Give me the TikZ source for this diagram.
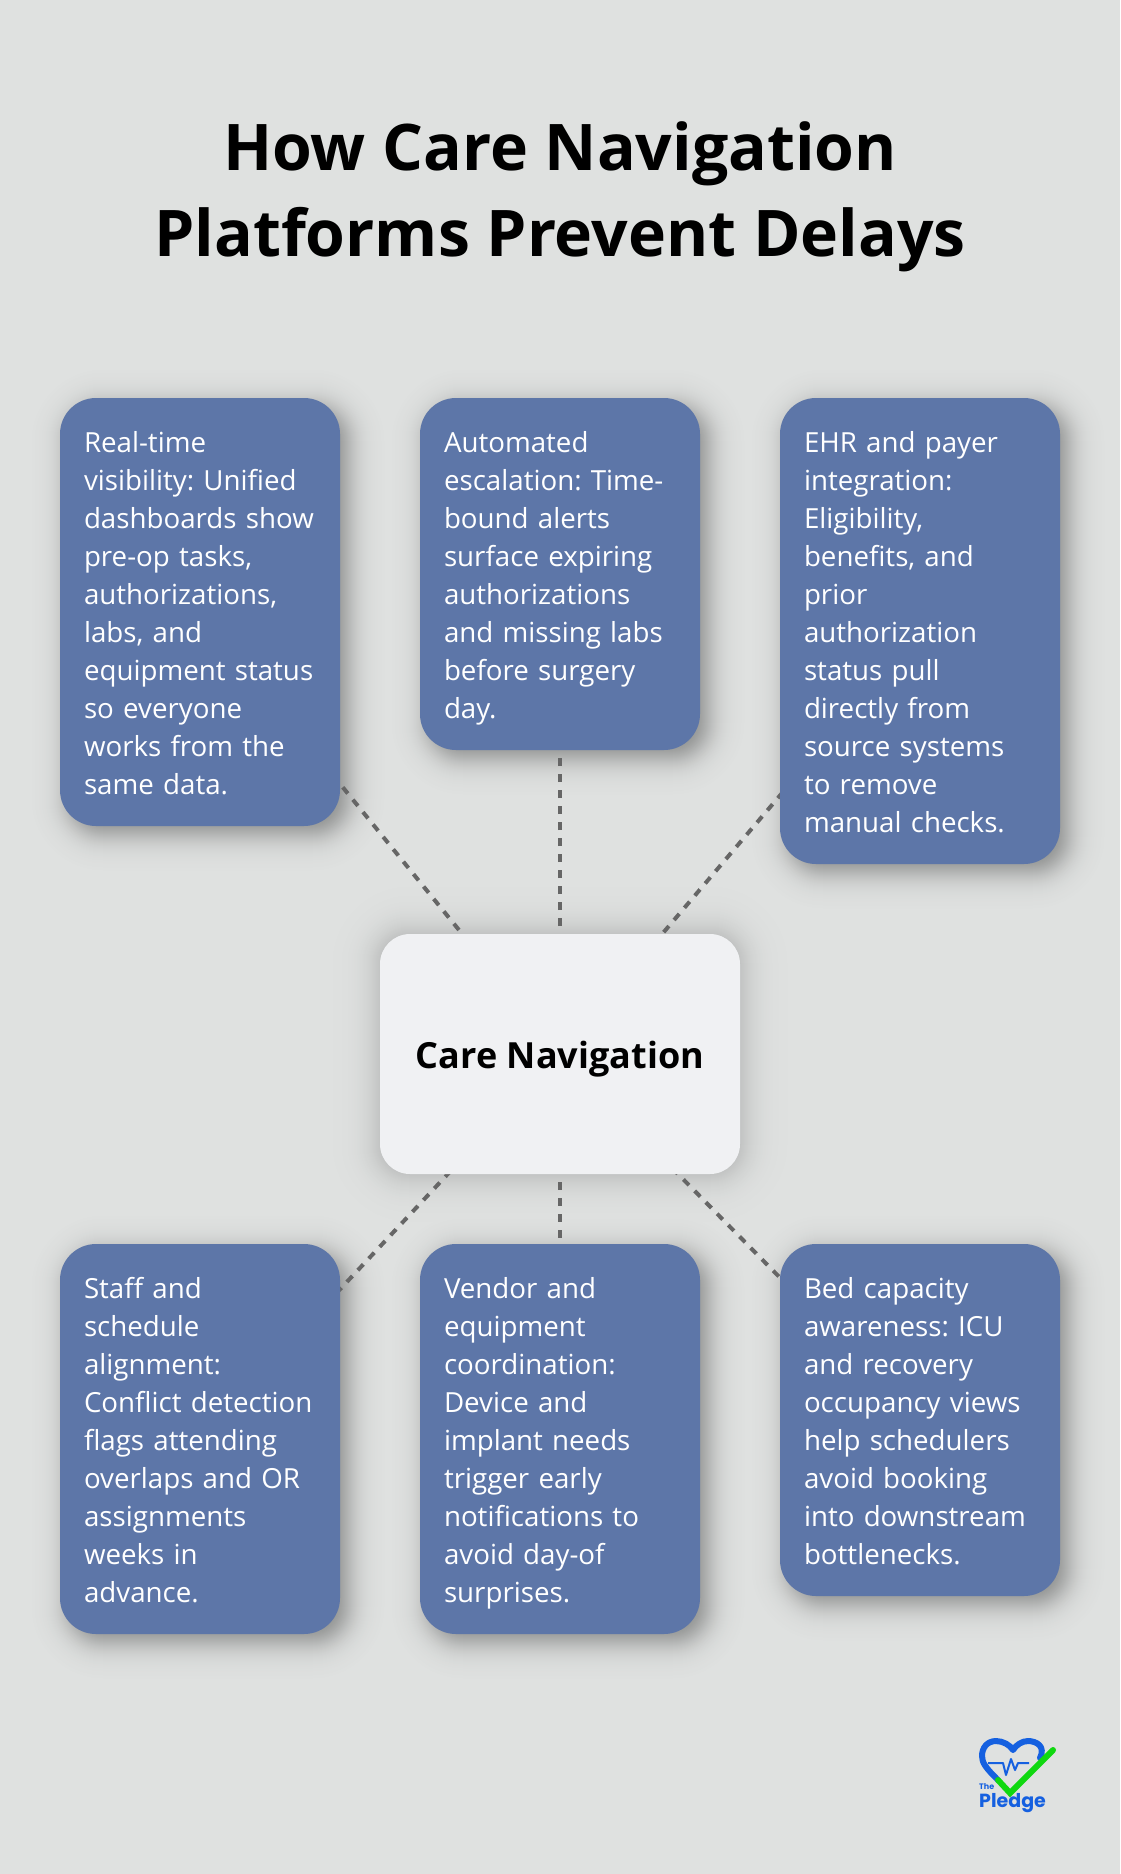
\documentclass[tikz,border=0pt]{standalone}
\usepackage{fontspec}
\setmainfont{Open Sans}
\newfontfamily\logofont{Poppins}
\usetikzlibrary{backgrounds,calc}
\definecolor{bgc}{HTML}{DFE1E0}
\definecolor{bluebox}{HTML}{5D76A8}
\definecolor{carebox}{HTML}{F0F1F3}
\definecolor{connc}{HTML}{666666}
\definecolor{logoblue}{HTML}{1560E0}
\definecolor{logogreen}{HTML}{10D810}
\tikzset{
  infobox/.style={anchor=north west,fill=bluebox,text=white,rounded corners=36pt,inner xsep=24pt,inner ysep=0pt,outer sep=0pt,text width=232pt,align=left,minimum width=280pt,font=\fontsize{27.7}{38}\selectfont\frenchspacing,
    execute at begin node={\rule{0pt}{30.6pt}},execute at end node={\rule[-7.4pt]{0pt}{7.4pt}}},
  carestyle/.style={anchor=north west,fill=carebox,text=black,rounded corners=30pt,inner sep=0pt,outer sep=0pt,minimum width=360pt,minimum height=240pt,align=center,font=\fontsize{36}{42}\selectfont\bfseries,
    execute at begin node={\rule[-7pt]{0pt}{45pt}}},
  titlestyle/.style={anchor=center,text=black,inner sep=0pt,align=center,font=\fontsize{64.3}{86}\selectfont\bfseries},
  conn/.style={draw=connc,line width=4pt,dash pattern=on 8pt off 8pt},
  heartline/.style={draw=logoblue,line width=6pt,line cap=round,line join=round},
  pulseline/.style={draw=logoblue,line width=2pt,line join=round},
  checkline/.style={draw=logogreen,line width=6pt,line cap=round,line join=miter}
}
\newcommand{\softshadow}[6]{% node, dx, dy, sigma, peak percent, radius
  \pgfmathtruncatemacro{\rng}{round(2.6*#4)}
  \pgfmathtruncatemacro{\nlay}{2*\rng}
  \foreach \i in {0,...,\nlay}{
    \pgfmathsetmacro{\ee}{\rng-\i}
    \pgfmathsetmacro{\rr}{max(#6+\ee,1)}
    \pgfmathsetmacro{\pc}{#5/(1+exp(1.702*\ee/#4))}
    \fill[black!\pc!bgc,rounded corners=\rr pt]
      ($(#1.north west)+(#2-\ee,#3-\ee)$) rectangle ($(#1.south east)+(#2+\ee,#3+\ee)$);
  }
}
\begin{document}
\begin{tikzpicture}[x=1pt,y=-1pt]
\useasboundingbox (0,0) rectangle (1120,1874);
\node[titlestyle] (title) at (560,197) {How Care Navigation\\Platforms Prevent Delays};
\node[infobox,minimum height=428pt] (b1) at (60,398) {Real-time\\visibility: Unified\\dashboards show\\pre-op tasks,\\authorizations,\\labs, and\\equipment status\\so everyone\\works from the\\same data.};
\node[infobox,minimum height=352pt] (b2) at (420,398) {Automated\\escalation: Time-\\bound alerts\\surface expiring\\authorizations\\and missing labs\\before surgery\\day.};
\node[infobox,minimum height=466pt] (b3) at (780,398) {EHR and payer\\integration:\\Eligibility,\\benefits, and\\prior\\authorization\\status pull\\directly from\\source systems\\to remove\\manual checks.};
\node[infobox,minimum height=390pt] (b4) at (60,1244) {Staff and\\schedule\\alignment:\\Conflict detection\\flags attending\\overlaps and OR\\assignments\\weeks in\\advance.};
\node[infobox,minimum height=390pt] (b5) at (420,1244) {Vendor and\\equipment\\coordination:\\Device and\\implant needs\\trigger early\\notifications to\\avoid day-of\\surprises.};
\node[infobox,minimum height=352pt] (b6) at (780,1244) {Bed capacity\\awareness: ICU\\and recovery\\occupancy views\\help schedulers\\avoid booking\\into downstream\\bottlenecks.};
\node[carestyle] (care) at (380,934) {Care Navigation};
\begin{pgfonlayer}{background}
  \fill[bgc] (0,0) rectangle (1120,1874);
  \softshadow{care}{0}{0}{18}{26}{30}
  \foreach \b in {b1,b2,b3,b4,b5,b6}{
    \softshadow{\b}{8}{8}{14}{40}{36}
  }
  \foreach \b in {b1,b2,b3,b4,b5,b6}{
    \draw[conn] (care.center) -- (\b.center);
  }
\end{pgfonlayer}
% logo
\draw[heartline] (1040,1758) .. controls (1046,1746) and (1036,1741) .. (1028,1741) .. controls (1022,1741) and (1016,1745) .. (1013,1750) .. controls (1010,1745) and (1003,1741) .. (996,1741) .. controls (987,1741) and (982,1748) .. (982,1756) .. controls (982,1763) and (986,1768) .. (998,1780);
\draw[pulseline] (988,1763) -- (1003,1763) -- (1006,1775) -- (1011,1759) -- (1015,1770) -- (1018,1763) -- (1029,1763);
\draw[checkline] (998,1780) -- (1010,1793) -- (1053,1750);
\node[anchor=west,inner sep=0pt,text=logoblue,font=\logofont\fontsize{8}{8}\selectfont\bfseries] (the) at (979,1787) {The};
\node[anchor=west,inner sep=0pt,text=logoblue,font=\logofont\fontsize{19}{19}\selectfont\bfseries] (pledge) at (979,1803) {Pledge};
\end{tikzpicture}
\end{document}
